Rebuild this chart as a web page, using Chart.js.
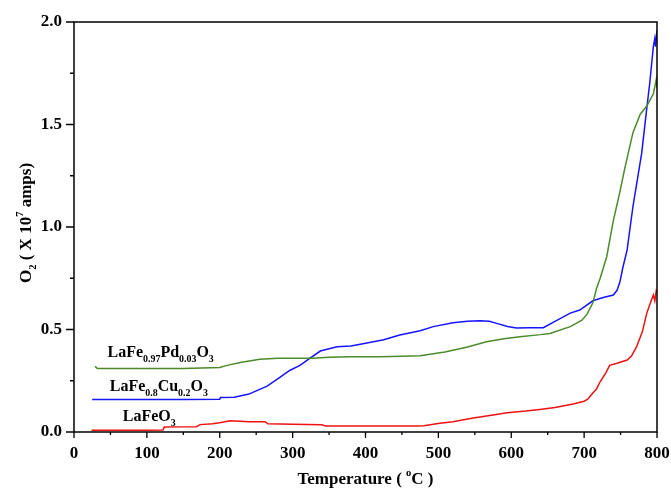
<!DOCTYPE html>
<html>
<head>
<meta charset="utf-8">
<script src="https://cdn.jsdelivr.net/npm/chart.js@4/dist/chart.umd.min.js"></script>
<style>
  html, body { margin: 0; padding: 0; background: #fff; }
  canvas { display: block; }
</style>
</head>
<body>
<canvas id="grafica" width="671" height="488"></canvas>
<script>
// temperature (°C) / O2 signal (x 10^7 amps)
const tempPd = [29, 32, 50, 100, 150, 200, 210, 230, 255, 280, 300, 327, 350, 379, 420, 450, 475, 509, 540, 566, 590, 612, 640, 653, 681, 697, 704, 712, 717, 722, 731, 740, 749, 756, 767, 777, 786, 795, 799, 800];
const valPd = [0.32, 0.31, 0.31, 0.31, 0.31, 0.315, 0.325, 0.34, 0.355, 0.36, 0.36, 0.36, 0.365, 0.367, 0.367, 0.37, 0.372, 0.39, 0.415, 0.44, 0.455, 0.465, 0.475, 0.481, 0.514, 0.545, 0.575, 0.63, 0.70, 0.75, 0.855, 1.03, 1.17, 1.29, 1.46, 1.55, 1.59, 1.65, 1.72, 1.68];

const tempCu = [25, 85, 150, 200, 201, 220, 240, 265, 280, 296, 310, 324, 338, 361, 380, 402, 425, 447, 475, 493, 520, 540, 557, 570, 580, 595, 607, 625, 644, 660, 681, 694, 712, 725, 740, 745, 749, 753, 759, 767, 779, 786, 790, 795, 797, 798, 800];
const valCu = [0.158, 0.158, 0.158, 0.16, 0.168, 0.17, 0.185, 0.224, 0.26, 0.30, 0.325, 0.36, 0.395, 0.416, 0.42, 0.434, 0.45, 0.473, 0.494, 0.514, 0.533, 0.54, 0.543, 0.54, 0.53, 0.515, 0.507, 0.508, 0.509, 0.54, 0.58, 0.595, 0.64, 0.655, 0.668, 0.69, 0.73, 0.80, 0.888, 1.10, 1.36, 1.58, 1.70, 1.88, 1.92, 1.88, 1.96];

const tempFe = [24, 60, 100, 122, 124, 150, 168, 173, 190, 200, 214, 240, 262, 266, 300, 340, 345, 400, 470, 480, 502, 520, 548, 575, 594, 620, 639, 660, 685, 700, 705, 712, 717, 722, 730, 735, 745, 759, 765, 772, 780, 786, 792, 795, 797, 799, 800];
const valFe = [0.008, 0.008, 0.008, 0.01, 0.024, 0.025, 0.026, 0.036, 0.04, 0.045, 0.055, 0.05, 0.05, 0.04, 0.038, 0.035, 0.029, 0.029, 0.029, 0.03, 0.043, 0.05, 0.068, 0.083, 0.094, 0.102, 0.11, 0.12, 0.137, 0.15, 0.16, 0.19, 0.21, 0.245, 0.29, 0.325, 0.335, 0.351, 0.37, 0.416, 0.49, 0.58, 0.64, 0.668, 0.64, 0.69, 0.684];

const xTicks = [0, 100, 200, 300, 400, 500, 600, 700, 800];
const yTicks = [0.0, 0.5, 1.0, 1.5, 2.0];

const toPoints = (xs, ys) => xs.map((x, i) => ({ x: x, y: ys[i] }));

const serif = '"Liberation Serif", "Times New Roman", serif';

// text runs: [text, 'sub' | 'sup' | undefined]
const drawRuns = (ctx, runs, x, y, size) => {
    let cx = x;
    runs.forEach(([t, kind]) => {
        let fs = kind ? size * 0.62 : size;
        let dy = kind === 'sub' ? size * 0.32 : kind === 'sup' ? -size * 0.45 : 0;
        ctx.font = 'bold ' + fs + 'px ' + serif;
        ctx.fillText(t, cx, y + dy);
        cx += ctx.measureText(t).width;
    });
};

const runsWidth = (ctx, runs, size) => {
    let w = 0;
    runs.forEach(([t, kind]) => {
        ctx.font = 'bold ' + (kind ? size * 0.62 : size) + 'px ' + serif;
        w += ctx.measureText(t).width;
    });
    return w;
};

const labelPd = [['LaFe'], ['0.97', 'sub'], ['Pd'], ['0.03', 'sub'], ['O'], ['3', 'sub']];
const labelCu = [['LaFe'], ['0.8', 'sub'], ['Cu'], ['0.2', 'sub'], ['O'], ['3', 'sub']];
const labelFe = [['LaFeO'], ['3', 'sub']];

const decoraciones = {
    id: 'decoraciones',
    afterDraw(chart) {
        const ctx = chart.ctx;
        const area = chart.chartArea;
        const sx = chart.scales.x;
        const sy = chart.scales.y;
        ctx.save();
        ctx.fillStyle = '#000';
        ctx.strokeStyle = '#000';

        // frame
        ctx.lineWidth = 1.5;
        ctx.strokeRect(area.left, area.top, area.right - area.left, area.bottom - area.top);

        // ticks
        ctx.lineWidth = 1.3;
        ctx.beginPath();
        for (let v = 0; v <= 800; v += 50) {
            let px = sx.getPixelForValue(v);
            let len = v % 100 === 0 ? 6 : 3;
            ctx.moveTo(px, area.bottom);
            ctx.lineTo(px, area.bottom + len);
        }
        for (let v = 0; v <= 2.0001; v += 0.25) {
            let py = sy.getPixelForValue(v);
            let len = Math.abs(v * 2 - Math.round(v * 2)) < 0.01 ? 8 : 4;
            ctx.moveTo(area.left, py);
            ctx.lineTo(area.left - len, py);
        }
        ctx.stroke();

        // tick labels
        ctx.font = 'bold 17px ' + serif;
        ctx.textBaseline = 'middle';
        ctx.textAlign = 'center';
        xTicks.forEach(v => ctx.fillText(String(v), sx.getPixelForValue(v), 454));
        ctx.textAlign = 'right';
        yTicks.forEach(v => ctx.fillText(v.toFixed(1), area.left - 12, sy.getPixelForValue(v)));

        // axis titles
        ctx.textAlign = 'left';
        ctx.textBaseline = 'alphabetic';
        const xTitle = [['Temperature ( '], ['o', 'sup'], ['C )']];
        let w = runsWidth(ctx, xTitle, 17);
        drawRuns(ctx, xTitle, (area.left + area.right) / 2 - w / 2, 484, 17);

        const yTitle = [['O'], ['2', 'sub'], [' ( X 10'], ['7', 'sup'], [' amps)']];
        w = runsWidth(ctx, yTitle, 17);
        ctx.save();
        ctx.translate(31, 223);
        ctx.rotate(-Math.PI / 2);
        drawRuns(ctx, yTitle, -w / 2, 0, 17);
        ctx.restore();

        // series labels
        drawRuns(ctx, labelPd, sx.getPixelForValue(46), sy.getPixelForValue(0.366), 16);
        drawRuns(ctx, labelCu, sx.getPixelForValue(49), sy.getPixelForValue(0.20), 16);
        drawRuns(ctx, labelFe, sx.getPixelForValue(67), sy.getPixelForValue(0.054), 16);

        ctx.restore();
    }
};

const init = () => {
    let chartCanva = document.getElementById('grafica').getContext('2d');
    let chart = new Chart(chartCanva, {
        type: 'line',
        data: {
            datasets: [
                {
                    label: 'LaFe0.97Pd0.03O3',
                    data: toPoints(tempPd, valPd),
                    borderColor: '#4b8b2b',
                },
                {
                    label: 'LaFe0.8Cu0.2O3',
                    data: toPoints(tempCu, valCu),
                    borderColor: '#1414ff',
                },
                {
                    label: 'LaFeO3',
                    data: toPoints(tempFe, valFe),
                    borderColor: '#ee1111',
                }
            ]
        },
        options: {
            responsive: false,
            animation: false,
            devicePixelRatio: 1,
            layout: { padding: { top: 22, right: 14, left: 0, bottom: 0 } },
            elements: {
                line: { borderWidth: 1.5, tension: 0, fill: false },
                point: { radius: 0 }
            },
            plugins: {
                legend: { display: false },
                tooltip: { enabled: false }
            },
            scales: {
                x: {
                    type: 'linear',
                    min: 0,
                    max: 800,
                    grid: { display: false },
                    border: { display: false },
                    ticks: { display: false },
                    afterFit: s => { s.height = 56; }
                },
                y: {
                    min: 0,
                    max: 2,
                    grid: { display: false },
                    border: { display: false },
                    ticks: { display: false },
                    afterFit: s => { s.width = 74; }
                }
            }
        },
        plugins: [decoraciones]
    });
};

document.addEventListener('DOMContentLoaded', () => {
    init();
});
</script>
</body>
</html>
